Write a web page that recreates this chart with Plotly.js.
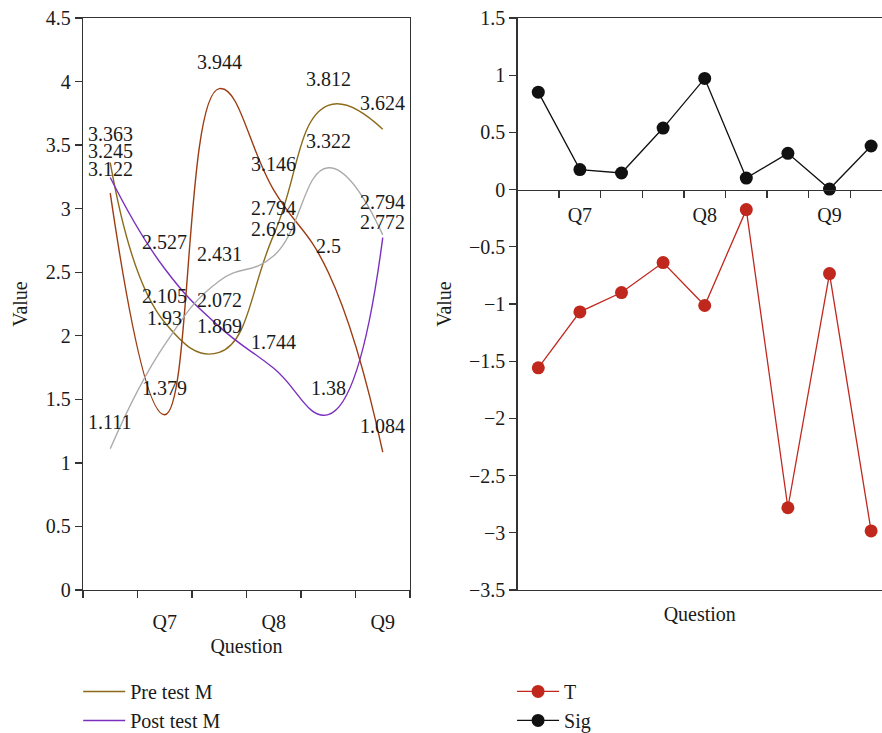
<!DOCTYPE html>
<html>
<head>
<meta charset="utf-8">
<script src="https://cdn.plot.ly/plotly-3.0.1.min.js"></script>
<style>html,body{margin:0;padding:0;background:#fff;}#chart{width:882px;height:733px;}</style>
</head>
<body>
<div id="chart"></div>
<script>
// ---- Left chart data (6 positions, labels on every second) ----
var leftX = [1, 2, 3, 4, 5, 6];
var leftTickVals = [2, 4, 6];
var leftTickText = ["Q7", "Q8", "Q9"];
var preTestM  = [3.363, 2.105, 1.869, 2.794, 3.812, 3.624];
var postTestM = [3.245, 2.527, 2.072, 1.744, 1.38, 2.772];
var brownSeries = [3.122, 1.379, 3.944, 3.146, 2.5, 1.084];
var graySeries  = [1.111, 1.93, 2.431, 2.629, 3.322, 2.794];

// ---- Right chart data (9 positions) ----
var rightX = [1, 2, 3, 4, 5, 6, 7, 8, 9];
var rightTickVals = [2, 5, 8];
var rightTickText = ["Q7", "Q8", "Q9"];
var tValues   = [-1.558, -1.069, -0.900, -0.638, -1.013, -0.175, -2.781, -0.734, -2.984];
var sigValues = [0.852, 0.175, 0.145, 0.538, 0.972, 0.101, 0.317, 0.005, 0.381];

var FONT = "Liberation Serif, Times New Roman, serif";
var TXT = "#1a1a1a";
var AX = "#333333";

var cPre = "#8c6a1a", cPost = "#7b2fbf", cBrown = "#9c3c12", cGray = "#ababab";
var cT = "#c0281e", cSig = "#111111";

function splineTrace(y, color, name, show) {
  return {x: leftX, y: y, type: "scatter", mode: "lines", name: name,
    line: {color: color, width: 1.4, shape: "spline", smoothing: 1.3},
    xaxis: "x", yaxis: "y", showlegend: show, legend: "legend", hoverinfo: "skip"};
}

var traces = [
  splineTrace(preTestM, cPre, "Pre test M", true),
  splineTrace(postTestM, cPost, "Post test M", true),
  splineTrace(brownSeries, cBrown, "Series 3", false),
  splineTrace(graySeries, cGray, "Series 4", false),
  {x: rightX, y: tValues, type: "scatter", mode: "lines+markers", name: "T",
   line: {color: cT, width: 1.3}, marker: {color: cT, size: 13},
   xaxis: "x2", yaxis: "y2", legend: "legend2", hoverinfo: "skip"},
  {x: rightX, y: sigValues, type: "scatter", mode: "lines+markers", name: "Sig",
   line: {color: cSig, width: 1.3}, marker: {color: cSig, size: 13},
   xaxis: "x3", yaxis: "y2", legend: "legend2", hoverinfo: "skip"}
];

// data labels for the left chart (label offsets: default above the point,
// crowded labels are spread apart a little)
var labelSeries = [preTestM, postTestM, brownSeries, graySeries];
var labelShift = {"0-0": 28.5, "2-0": 24.5, "1-5": 16, "3-5": 33};
var annotations = [];
labelSeries.forEach(function (s, si) {
  s.forEach(function (v, i) {
    var key = si + "-" + i;
    annotations.push({x: leftX[i], y: v, xref: "x", yref: "y", text: String(v),
      showarrow: false, yshift: (labelShift[key] !== undefined ? labelShift[key] : 26.5),
      font: {family: FONT, size: 20, color: TXT}});
  });
});

var W = 882, H = 733, mL = 83, mR = 0, mT = 18, mB = 143;
var pw = W - mL - mR;
var leftDomain = [0, (410 - mL) / pw];
var rightDomain = [(517.5 - mL) / pw, 1];
var rightRange = [0.5, 0.5 + (W - 517.5) / 41.6];
var y2Range = [-3.5, 1.5];
var zeroPos = (0 - y2Range[0]) / (y2Range[1] - y2Range[0]);

var tickFont = {family: FONT, size: 20, color: TXT};
var titleFont = {family: FONT, size: 20, color: TXT};

var layout = {
  width: W, height: H,
  margin: {l: mL, r: mR, t: mT, b: mB, autoexpand: false},
  paper_bgcolor: "#fff", plot_bgcolor: "#fff",
  font: {family: FONT, color: TXT},
  showlegend: true,
  xaxis: {domain: leftDomain, range: [0.5, 6.5], tickmode: "array",
    tickvals: leftTickVals, ticktext: leftTickText, ticks: "", ticklabelstandoff: 14,
    minor: {tickmode: "linear", tick0: 0.5, dtick: 1, ticks: "outside", ticklen: 7, tickcolor: AX, tickwidth: 1.3, showgrid: false},
    showline: true, linecolor: AX, linewidth: 1.3, mirror: true, showgrid: false, zeroline: false,
    tickfont: tickFont, title: {text: "Question", font: titleFont, standoff: 6}, anchor: "y", automargin: false},
  yaxis: {domain: [0, 1], range: [0, 4.5], dtick: 0.5, tick0: 0, ticks: "outside", ticklen: 7,
    tickcolor: AX, tickwidth: 1.3, showline: true, linecolor: AX, linewidth: 1.3, mirror: true,
    showgrid: false, zeroline: false, tickfont: tickFont, automargin: false,
    title: {text: "Value", font: titleFont, standoff: 12}, anchor: "x"},
  xaxis2: {domain: rightDomain, range: rightRange, anchor: "y2", showticklabels: false, ticks: "",
    showline: true, linecolor: AX, linewidth: 1.3, mirror: true, showgrid: false, zeroline: false,
    automargin: false, title: {text: "Question", font: titleFont, standoff: 16}},
  xaxis3: {overlaying: "x2", anchor: "free", position: zeroPos, range: rightRange,
    tickmode: "array", tickvals: rightTickVals, ticktext: rightTickText, ticks: "", ticklabelstandoff: 7,
    minor: {tickmode: "linear", tick0: 0.5, dtick: 1, ticks: "outside", ticklen: 7, tickcolor: AX, tickwidth: 1.3, showgrid: false},
    showline: true, linecolor: AX, linewidth: 1.3, showgrid: false, zeroline: false, tickfont: tickFont, automargin: false},
  yaxis2: {domain: [0, 1], range: y2Range, dtick: 0.5, tick0: 0, anchor: "x2", ticks: "outside", ticklen: 7,
    tickcolor: AX, tickwidth: 1.3, showline: true, linecolor: AX, linewidth: 1.3, mirror: false,
    showgrid: false, zeroline: false, tickfont: tickFont, automargin: false,
    title: {text: "Value", font: titleFont, standoff: 12}},
  legend: {x: -0.006, xanchor: "left", yref: "container", y: 0.0833, yanchor: "top", orientation: "v",
    itemwidth: 42, font: {family: FONT, size: 20, color: TXT}, bgcolor: "rgba(0,0,0,0)", tracegroupgap: 0},
  legend2: {x: 0.537, xanchor: "left", yref: "container", y: 0.0833, yanchor: "top", orientation: "v",
    itemwidth: 42, font: {family: FONT, size: 20, color: TXT}, bgcolor: "rgba(0,0,0,0)", tracegroupgap: 0},
  annotations: annotations
};

Plotly.newPlot("chart", traces, layout, {displayModeBar: false, staticPlot: true});
</script>
</body>
</html>
